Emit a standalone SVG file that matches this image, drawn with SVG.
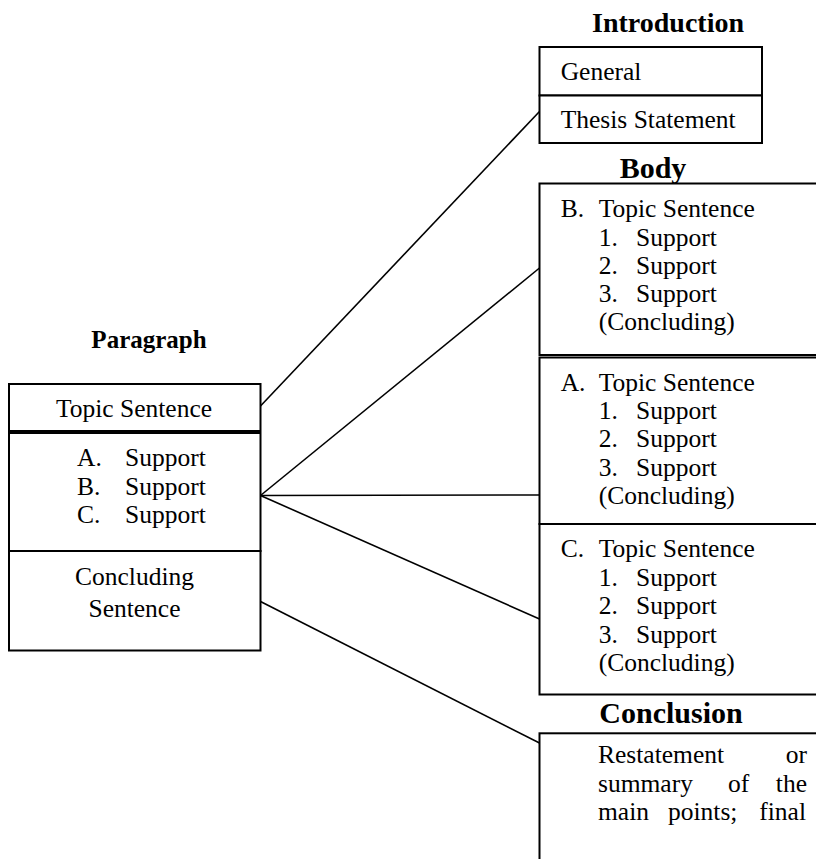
<svg xmlns="http://www.w3.org/2000/svg" width="816" height="859" viewBox="0 0 816 859">
<style>
.box{fill:#fff;stroke:#000;stroke-width:2}
.con{stroke:#000;stroke-width:1.6;fill:none}
.t{font-family:"Liberation Serif","Times New Roman",serif;font-size:25.5px;fill:#000}
.h{font-family:"Liberation Serif","Times New Roman",serif;font-weight:bold;fill:#000;text-anchor:middle}
.c{text-anchor:middle}
.e{text-anchor:end}
</style>
<rect width="816" height="859" fill="#fff"/>
<g id="connectors">
<line class="con" x1="260.5" y1="406" x2="539.5" y2="111.5"/>
<line class="con" x1="260.5" y1="495.5" x2="539.5" y2="268"/>
<line class="con" x1="260.5" y1="495.5" x2="539.5" y2="495"/>
<line class="con" x1="260.5" y1="495.5" x2="539.5" y2="619"/>
<line class="con" x1="260.5" y1="601.5" x2="539.5" y2="743"/>
</g>
<g id="paragraph">
<text class="h" x="149" y="348" font-size="25">Paragraph</text>
<g id="topic-sentence">
<rect class="box" x="9" y="384" width="251.5" height="47"/>
<text class="t c" x="134" y="416.5">Topic Sentence</text>
</g>
<g id="supports">
<rect class="box" x="9" y="433" width="251.5" height="118"/>
<text class="t" x="77" y="466">A.</text><text class="t" x="125" y="466">Support</text>
<text class="t" x="77" y="494.5">B.</text><text class="t" x="125" y="494.5">Support</text>
<text class="t" x="77" y="523">C.</text><text class="t" x="125" y="523">Support</text>
</g>
<g id="concluding-sentence">
<rect class="box" x="9" y="551" width="251.5" height="99.5"/>
<text class="t c" x="134.5" y="585">Concluding</text>
<text class="t c" x="134.5" y="616.5">Sentence</text>
</g>
</g>
<g id="introduction">
<text class="h" x="668" y="32.3" font-size="28">Introduction</text>
<g id="general">
<rect class="box" x="539.5" y="47" width="222.5" height="48.5"/>
<text class="t" x="560.7" y="80">General</text>
</g>
<g id="thesis">
<rect class="box" x="539.5" y="95.5" width="222.5" height="47.5"/>
<text class="t" x="560.7" y="128.3">Thesis Statement</text>
</g>
</g>
<g id="body">
<text class="h" x="653" y="178.3" font-size="30">Body</text>
<g id="body-b">
<rect class="box" x="539.5" y="183.5" width="290" height="171.5"/>
<text class="t" x="560.7" y="217.3">B.</text><text class="t" x="598.7" y="217.3">Topic Sentence</text>
<text class="t" x="598.7" y="245.5">1.</text><text class="t" x="636" y="245.5">Support</text>
<text class="t" x="598.7" y="273.5">2.</text><text class="t" x="636" y="273.5">Support</text>
<text class="t" x="598.7" y="301.7">3.</text><text class="t" x="636" y="301.7">Support</text>
<text class="t" x="598.7" y="330">(Concluding)</text>
</g>
<g id="body-a">
<rect class="box" x="539.5" y="357.5" width="290" height="166.5"/>
<text class="t" x="560.7" y="390.7">A.</text><text class="t" x="598.7" y="390.7">Topic Sentence</text>
<text class="t" x="598.7" y="419">1.</text><text class="t" x="636" y="419">Support</text>
<text class="t" x="598.7" y="447.3">2.</text><text class="t" x="636" y="447.3">Support</text>
<text class="t" x="598.7" y="476">3.</text><text class="t" x="636" y="476">Support</text>
<text class="t" x="598.7" y="504">(Concluding)</text>
</g>
<g id="body-c">
<rect class="box" x="539.5" y="524" width="290" height="170.5"/>
<text class="t" x="560.7" y="557.3">C.</text><text class="t" x="598.7" y="557.3">Topic Sentence</text>
<text class="t" x="598.7" y="586">1.</text><text class="t" x="636" y="586">Support</text>
<text class="t" x="598.7" y="614">2.</text><text class="t" x="636" y="614">Support</text>
<text class="t" x="598.7" y="642.5">3.</text><text class="t" x="636" y="642.5">Support</text>
<text class="t" x="598.7" y="670.7">(Concluding)</text>
</g>
</g>
<g id="conclusion">
<text class="h" x="671" y="723.3" font-size="30">Conclusion</text>
<rect class="box" x="539.5" y="733.3" width="290" height="140"/>
<text class="t" x="598" y="763">Restatement</text><text class="t e" x="807" y="763">or</text>
<text class="t" x="598" y="791.7">summary</text><text class="t" x="728" y="791.7">of</text><text class="t e" x="807" y="791.7">the</text>
<text class="t" x="598" y="820">main</text><text class="t" x="668" y="820">points;</text><text class="t e" x="806" y="820">final</text>
</g>
</svg>
